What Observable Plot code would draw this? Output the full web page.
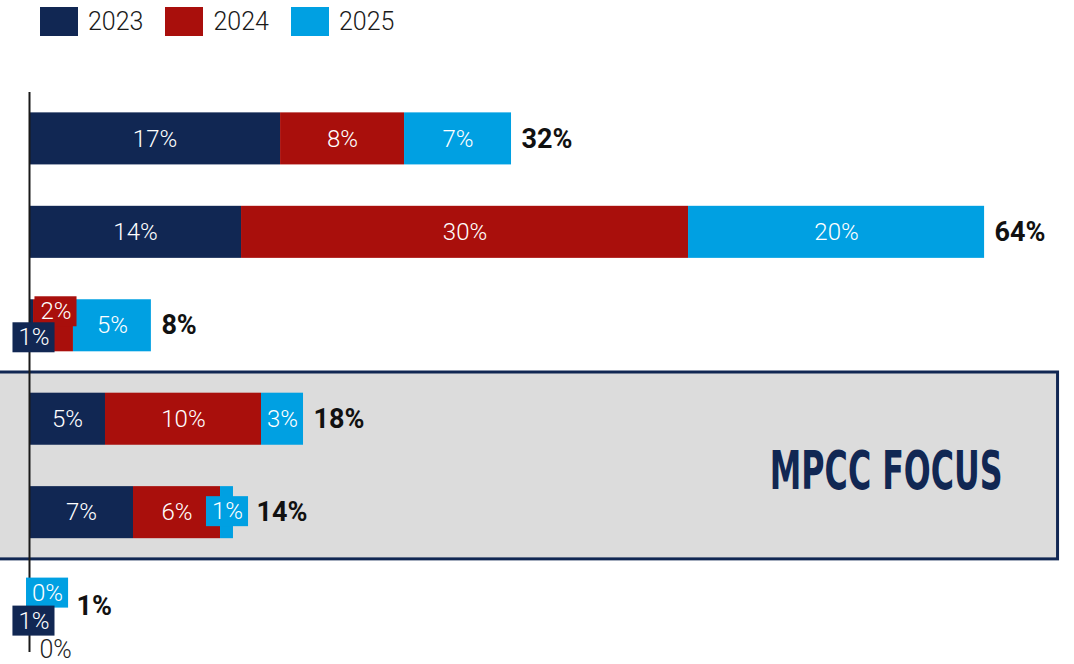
<!DOCTYPE html>
<html><head><meta charset="utf-8">
<script src="https://cdn.jsdelivr.net/npm/d3@7"></script>
<script src="https://cdn.jsdelivr.net/npm/@observablehq/plot@0.6"></script>
<style>
body{margin:0;background:#fff;font-family:Roboto,"Noto Sans",sans-serif;}
#legend{height:46px;box-sizing:border-box;padding:7px 0 0 40px;display:flex;align-items:flex-start;}
.item{display:flex;align-items:center;margin-right:22px;height:29px;}
.sw{width:38px;height:29px;margin-right:10px;}
.lt{font-size:25px;font-weight:300;color:#1a1a1a;line-height:29px;}
svg{display:block;}
</style></head><body>
<div id="legend"></div><div id="chart"></div>
<script>
// ---- data ----
const categories = ["Category A","Category B","Category C","Category D","Category E","Category F"];
const years = ["2023","2024","2025"];
const values2023 = [16.85, 14.23, 0.27, 5.10, 6.98, 0.6];
const values2024 = [8.32, 30.0, 2.68, 10.47, 5.84, 0];
const values2025 = [7.18, 19.87, 5.23, 2.82, 0.87, 0.35];
const labels2023 = ["17%","14%","1%","5%","7%","1%"];
const labels2024 = ["8%","30%","2%","10%","6%",""];
const labels2025 = ["7%","20%","5%","3%","1%","0%"];
const totalLabels = ["32%","64%","8%","18%","14%","1%"];
const focusCategories = ["Category D","Category E"];
const focusLabel = "MPCC FOCUS";
const xTicks = [0];
const xTickLabels = ["0%"];

// ---- styles / layout ----
const colors = ["#112753","#a90f0c","#00a0e2"];
const navy = colors[0];
const W = 1074, H = 618, mt = 46, mb = 12, ml = 29, mr = 2, xMax = 70;
const padIn = 0.443, padOut = 0.218;
const n = categories.length;
const k = (W - ml - mr) / xMax;
const step = (H - mt - mb) / (n - padIn + 2 * padOut);
const bw = step * (1 - padIn);
const halfGap = (step - bw) / 2;
const font = "Roboto, sans-serif";
const labelSize = 24, totalSize = 27;

// legend
const leg = document.getElementById("legend");
years.forEach((y, j) => {
  const it = document.createElement("div"); it.className = "item";
  const sw = document.createElement("div"); sw.className = "sw"; sw.style.background = colors[j];
  const t = document.createElement("span"); t.className = "lt"; t.textContent = y;
  it.append(sw, t); leg.append(it);
});

// long data
const valueSets = [values2023, values2024, values2025];
const labelSets = [labels2023, labels2024, labels2025];
const segs = [];
const totals = [];
categories.forEach((c, i) => {
  let cum = 0;
  years.forEach((y, j) => {
    const v = valueSets[j][i];
    segs.push({cat: c, i, j, year: y, value: v, x1: cum, x2: cum + v, mid: cum + v / 2, label: labelSets[j][i]});
    cum += v;
  });
  totals.push({cat: c, i, total: cum, label: totalLabels[i]});
});

// labels that don't fit inside their segment get a coloured box, nudged (px)
const boxedNudge = {"2|0": [2.5, 12], "2|1": [2.5, -14], "4|2": [0.5, -1], "5|0": [0, 15], "5|2": [6.5, -13]};
const ctx = document.createElement("canvas").getContext("2d");
ctx.font = `300 ${labelSize}px Roboto`;
const px = v => ml + v * k;

const boxed = segs.filter(s => boxedNudge[s.i + "|" + s.j]).sort((a, b) => b.j - a.j);
const extraByRow = {};
boxed.forEach(s => {
  const [dx, dy] = boxedNudge[s.i + "|" + s.j];
  s.dx = dx; s.dy = dy;
  s.w = ctx.measureText(s.label).width + 11;
  const right = px(s.mid) + dx + s.w / 2;
  const end = px(totals[s.i].total);
  extraByRow[s.i] = Math.max(extraByRow[s.i] || 0, right - end - 2);
});

const marks = [
  // focus region
  Plot.barX([focusCategories], {
    x1: () => -3, x2: () => 69.03, y: d => d[0],
    insetTop: -halfGap, insetBottom: -(step * (focusCategories.length - 1) + halfGap),
    fill: "#dcdcdc", stroke: navy, strokeWidth: 3
  }),
  // bars
  Plot.barX(segs.filter(s => s.value > 0), {x1: "x1", x2: "x2", y: "cat", fill: "year"}),
  Plot.ruleX(xTicks, {stroke: "#1a1a1a", strokeWidth: 2}),
  // inside labels
  Plot.text(segs.filter(s => s.label && !boxedNudge[s.i + "|" + s.j]), {
    x: "mid", y: "cat", text: "label", fill: "white", fontSize: labelSize, fontWeight: 300
  })
];
boxed.forEach(s => {
  marks.push(Plot.barX([s], {
    x1: "mid", x2: "mid", y: "cat", fill: colors[s.j],
    insetLeft: -s.w / 2, insetRight: -s.w / 2, insetTop: (bw - 30) / 2, insetBottom: (bw - 30) / 2,
    dx: s.dx, dy: s.dy
  }));
  marks.push(Plot.text([s], {
    x: "mid", y: "cat", text: "label", fill: "white", fontSize: labelSize, fontWeight: 300,
    dx: s.dx, dy: s.dy
  }));
});
totals.forEach(t => {
  marks.push(Plot.text([t], {
    x: "total", y: "cat", text: "label", textAnchor: "start",
    dx: 10 + Math.max(0, extraByRow[t.i] || 0),
    fontSize: totalSize, fontWeight: 700, fill: "#111"
  }));
});
marks.push(Plot.text([focusLabel], {
  x: () => 57.5, y: () => focusCategories[0], text: d => d, dy: step / 2 + 6,
  fontSize: 53, fontWeight: 700, fill: navy, className: "focus-label",
  fontFamily: "'Liberation Sans Narrow', 'DejaVu Sans Condensed', Roboto, sans-serif"
}));
marks.push(Plot.text(xTicks, {
  x: d => d, text: (d, i) => xTickLabels[i], frameAnchor: "bottom", lineAnchor: "middle", textAnchor: "start",
  dx: 10, dy: -3, fontSize: 25, fontWeight: 300, fill: "#222"
}));

const chart = Plot.plot({
  width: W, height: H,
  marginTop: mt, marginBottom: mb, marginLeft: ml, marginRight: mr,
  style: {fontFamily: font, background: "white"},
  x: {domain: [0, xMax], axis: null},
  y: {domain: categories, axis: null, paddingInner: padIn, paddingOuter: padOut, round: false},
  color: {domain: years, range: colors},
  marks
});
document.getElementById("chart").append(chart);
// squeeze the condensed focus caption horizontally to its width in the reference
const ft = chart.querySelector(".focus-label text");
if (ft) {
  const wNat = ft.getBBox().width;
  const sx = 233 / wNat;
  ft.setAttribute("transform", (ft.getAttribute("transform") || "") + ` scale(${sx},1)`);
}
</script>
</body></html>
